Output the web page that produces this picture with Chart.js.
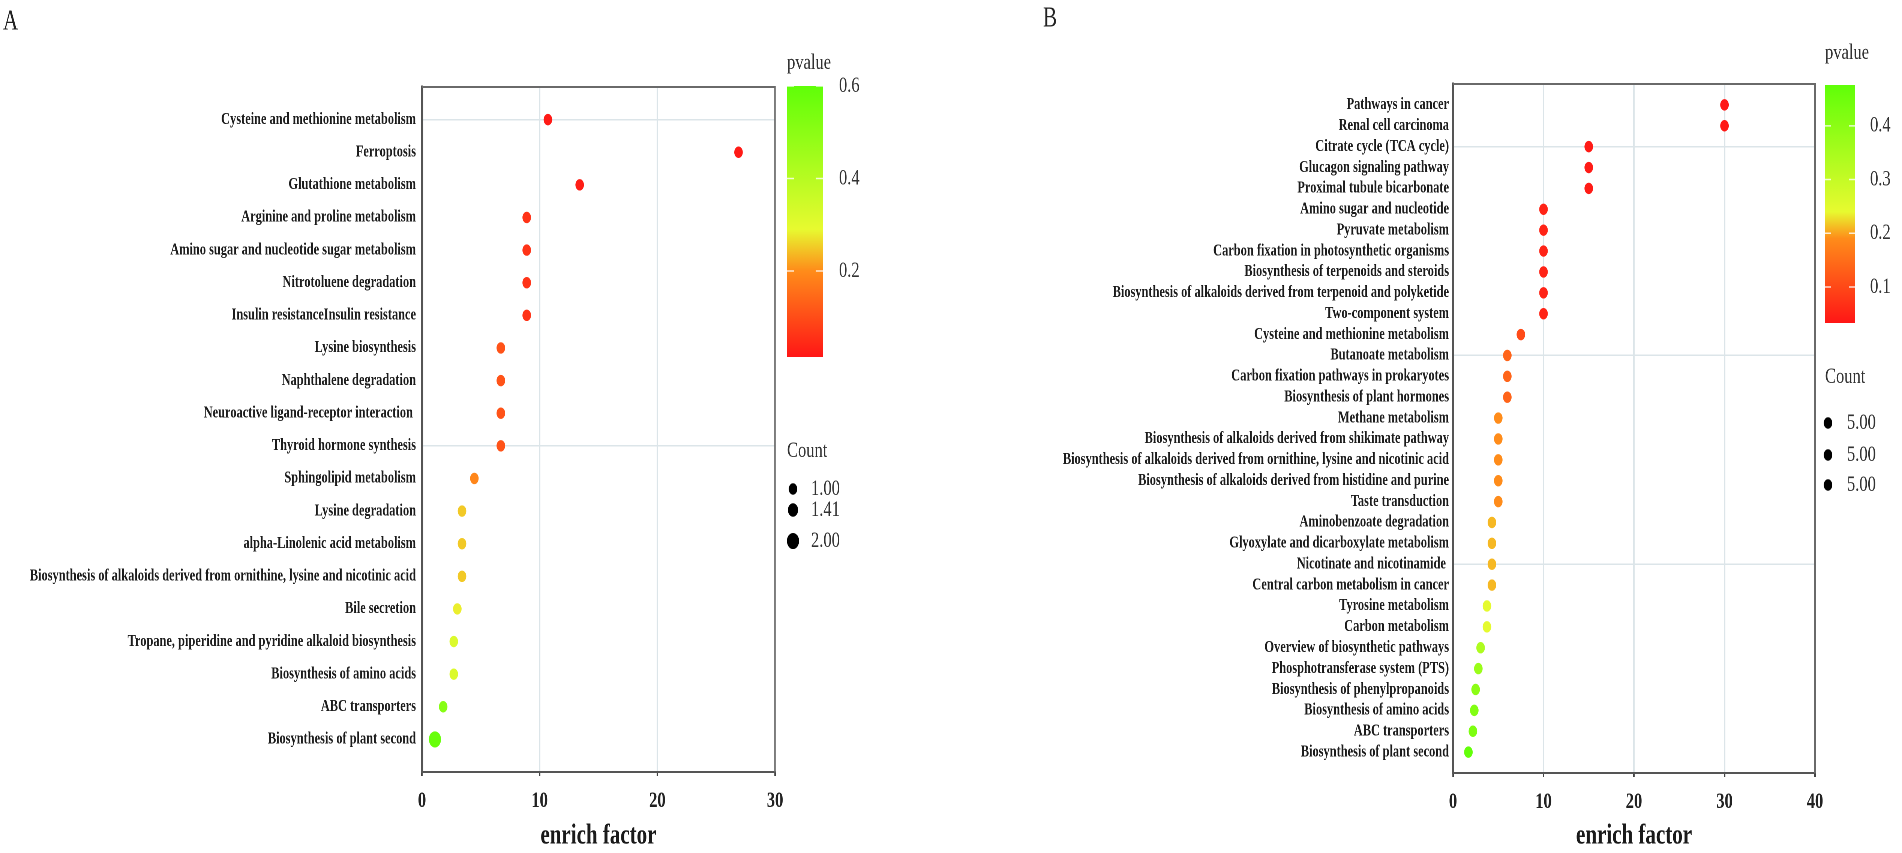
<!DOCTYPE html>
<html>
<head>
<meta charset="utf-8">
<script src="https://cdn.jsdelivr.net/npm/chart.js@4.4.1/dist/chart.umd.min.js"></script>
<style>
  html, body { margin: 0; padding: 0; background: #fff; overflow: hidden; }
  #wrap { position: relative; width: 1902px; height: 853px; }
  canvas { position: absolute; top: 0; }
  #chartA { left: 0; }
  #chartB { left: 951px; }
</style>
</head>
<body>
<div id="wrap">
  <canvas id="chartA"></canvas>
  <canvas id="chartB"></canvas>
</div>
<script>
// ---- panel A data (top row first) ----
const pathwaysA = [
  'Cysteine and methionine metabolism', 'Ferroptosis', 'Glutathione metabolism',
  'Arginine and proline metabolism', 'Amino sugar and nucleotide sugar metabolism',
  'Nitrotoluene degradation', 'Insulin resistanceInsulin resistance', 'Lysine biosynthesis',
  'Naphthalene degradation', 'Neuroactive ligand-receptor interaction ', 'Thyroid hormone synthesis',
  'Sphingolipid metabolism', 'Lysine degradation', 'alpha-Linolenic acid metabolism',
  'Biosynthesis of alkaloids derived from ornithine, lysine and nicotinic acid', 'Bile secretion',
  'Tropane, piperidine and pyridine alkaloid biosynthesis', 'Biosynthesis of amino acids',
  'ABC transporters', 'Biosynthesis of plant second'
];
const enrichA = [10.7, 26.9, 13.4, 8.9, 8.9, 8.9, 8.9, 6.7, 6.7, 6.7, 6.7, 4.45, 3.4, 3.4, 3.4, 3.0, 2.7, 2.7, 1.8, 1.1];
const pvalueA = [0.02, 0.02, 0.025, 0.06, 0.06, 0.06, 0.06, 0.11, 0.11, 0.11, 0.11, 0.19, 0.25, 0.25, 0.25, 0.28, 0.32, 0.32, 0.51, 0.585];
const countA = [1, 1, 1, 1, 1, 1, 1, 1, 1, 1, 1, 1, 1, 1, 1, 1, 1, 1, 1, 2];
const pvTicksA = [0.2, 0.4, 0.6];
const countTicksA = [1.00, 1.41, 2.00];

// ---- panel B data (top row first) ----
const pathwaysB = [
  'Pathways in cancer', 'Renal cell carcinoma', 'Citrate cycle (TCA cycle)', 'Glucagon signaling pathway',
  'Proximal tubule bicarbonate', 'Amino sugar and nucleotide', 'Pyruvate metabolism',
  'Carbon fixation in photosynthetic organisms', 'Biosynthesis of terpenoids and steroids',
  'Biosynthesis of alkaloids derived from terpenoid and polyketide', 'Two-component system',
  'Cysteine and methionine metabolism', 'Butanoate metabolism', 'Carbon fixation pathways in prokaryotes',
  'Biosynthesis of plant hormones', 'Methane metabolism', 'Biosynthesis of alkaloids derived from shikimate pathway',
  'Biosynthesis of alkaloids derived from ornithine, lysine and nicotinic acid',
  'Biosynthesis of alkaloids derived from histidine and purine', 'Taste transduction', 'Aminobenzoate degradation',
  'Glyoxylate and dicarboxylate metabolism', 'Nicotinate and nicotinamide ', 'Central carbon metabolism in cancer',
  'Tyrosine metabolism', 'Carbon metabolism', 'Overview of biosynthetic pathways', 'Phosphotransferase system (PTS)',
  'Biosynthesis of phenylpropanoids', 'Biosynthesis of amino acids', 'ABC transporters', 'Biosynthesis of plant second'
];
const enrichB = [30, 30, 15, 15, 15, 10, 10, 10, 10, 10, 10, 7.5, 6, 6, 6, 5, 5, 5, 5, 5,
  4.3, 4.3, 4.3, 4.3, 3.75, 3.75, 3.05, 2.8, 2.5, 2.35, 2.2, 1.7];
const pvalueB = [0.035, 0.035, 0.04, 0.04, 0.04, 0.05, 0.05, 0.05, 0.05, 0.05, 0.05, 0.104, 0.137, 0.137, 0.137,
  0.19, 0.19, 0.19, 0.19, 0.19, 0.21, 0.21, 0.21, 0.21, 0.245, 0.245, 0.34, 0.375, 0.40, 0.417, 0.426, 0.47];
const countB = Array(32).fill(5);
const pvTicksB = [0.1, 0.2, 0.3, 0.4];
const countTicksB = [5.00, 5.00, 5.00];

// the source figure is squeezed horizontally; draw wide, show narrow
const K = 0.75;
const PANEL_W = 951, PANEL_H = 853;
const ix = v => v / K;
const SERIF = "'Liberation Serif', 'Times New Roman', serif";
const GRID = '#dce5e9';

function colorScale(stops) {
  return p => {
    let i = 0;
    while (i < stops.length - 2 && p > stops[i + 1][0]) i++;
    const [p0, c0] = stops[i], [p1, c1] = stops[i + 1];
    const t = Math.max(0, Math.min(1, (p - p0) / (p1 - p0)));
    return 'rgb(' + c0.map((c, k) => Math.round(c + (c1[k] - c) * t)).join(',') + ')';
  };
}

function panelExtras(p) {
  return {
    id: 'extras',
    beforeDatasetsDraw(chart) {
      const { ctx, chartArea: a } = chart;
      ctx.save();
      ctx.strokeStyle = '#6a6a6a';
      ctx.lineWidth = 2;
      ctx.beginPath();
      ctx.moveTo(a.left, a.top);
      ctx.lineTo(a.right, a.top);
      ctx.lineTo(a.right, a.bottom);
      ctx.stroke();
      ctx.restore();
    },
    afterDraw(chart) {
      const { ctx } = chart;
      const L = p.legend;
      ctx.save();
      ctx.textBaseline = 'middle';
      ctx.textAlign = 'left';
      ctx.fillStyle = '#222';
      ctx.font = `28px ${SERIF}`;
      ctx.fillText(p.letter, ix(L.letter[0]), L.letter[1]);

      // pvalue colour bar
      const lo = p.stops[0][0], hi = p.stops[p.stops.length - 1][0];
      const x0 = ix(L.bar[0]), x1 = ix(L.bar[1]), top = L.bar[2], bot = L.bar[3];
      const g = ctx.createLinearGradient(0, bot, 0, top);
      p.stops.forEach(([v, c]) => g.addColorStop((v - lo) / (hi - lo), `rgb(${c.join(',')})`));
      ctx.fillStyle = g;
      ctx.fillRect(x0, top, x1 - x0, bot - top);
      const yOf = v => bot - (v - lo) / (hi - lo) * (bot - top);

      ctx.font = `22px ${SERIF}`;
      ctx.fillStyle = '#333';
      ctx.fillText('pvalue', x0, L.title);
      ctx.strokeStyle = 'rgba(255,255,255,0.8)';
      ctx.lineWidth = 1.5;
      const w = (x1 - x0) * 0.2;
      p.pvTicks.forEach(v => {
        const y = yOf(v);
        ctx.beginPath();
        ctx.moveTo(x0, y); ctx.lineTo(x0 + w, y);
        ctx.moveTo(x1 - w, y); ctx.lineTo(x1, y);
        ctx.stroke();
        ctx.fillText(v.toFixed(1), ix(L.tickX), y);
      });

      // count legend
      ctx.fillText('Count', x0, L.countTitle);
      p.countTicks.forEach((c, i) => {
        ctx.fillStyle = '#000';
        ctx.beginPath();
        ctx.arc(ix(L.dotX), L.dotY[i], p.dotR * Math.sqrt(c / p.countRef), 0, Math.PI * 2);
        ctx.fill();
        ctx.fillStyle = '#333';
        ctx.fillText(c.toFixed(2), ix(L.dotLabelX), L.dotY[i]);
      });
      ctx.restore();
    }
  };
}

function makePanel(id, p) {
  const cv = document.getElementById(id);
  cv.width = Math.round(ix(PANEL_W));
  cv.height = PANEL_H;
  cv.style.width = PANEL_W + 'px';
  cv.style.height = PANEL_H + 'px';
  const n = p.pathways.length;
  const color = colorScale(p.stops);
  const radius = c => p.dotR * Math.sqrt(p.count[c.dataIndex] / p.countRef);

  return new Chart(cv, {
    type: 'scatter',
    data: {
      datasets: [{
        data: p.enrich.map((x, i) => ({ x, y: n - i })),
        backgroundColor: c => color(p.pvalue[c.dataIndex]),
        pointRadius: radius,
        pointHoverRadius: radius,
        borderWidth: 0
      }]
    },
    options: {
      responsive: false,
      animation: false,
      devicePixelRatio: 2,
      layout: { padding: { left: 0, top: p.box.top, right: cv.width - ix(p.box.right), bottom: 0 } },
      plugins: { legend: { display: false }, tooltip: { enabled: false } },
      scales: {
        x: {
          type: 'linear', min: 0, max: p.xMax,
          afterFit: s => { s.height = PANEL_H - p.box.bottom; },
          ticks: {
            stepSize: 10, maxRotation: 0, padding: 12, color: '#222',
            font: { family: SERIF, size: 22, weight: 'bold' }
          },
          grid: {
            color: c => (c.tick && c.tick.value > 0 && c.tick.value < p.xMax) ? GRID : 'rgba(0,0,0,0)',
            lineWidth: 2, tickLength: 4, tickColor: '#444', tickWidth: 2
          },
          border: { color: '#555', width: 2 },
          title: {
            display: true, text: 'enrich factor', color: '#1a1a1a', padding: 0,
            font: { family: SERIF, size: 28, weight: 'bold' }
          }
        },
        y: {
          type: 'linear', min: 0, max: p.yMax,
          afterBuildTicks: s => { s.ticks = p.pathways.map((_, i) => ({ value: i + 1 })); },
          afterFit: s => { s.width = ix(p.box.left); },
          ticks: {
            autoSkip: false, padding: ix(p.labelGap), color: '#1c1c1c',
            font: { family: SERIF, size: 16.5, weight: 'bold' },
            callback: v => p.pathways[n - v]
          },
          grid: {
            drawTicks: false, lineWidth: 1.5,
            color: c => (c.tick && c.tick.value % 10 === 0) ? GRID : 'rgba(0,0,0,0)'
          },
          border: { color: '#555', width: 2.6 }
        }
      }
    },
    plugins: [panelExtras(p)]
  });
}

makePanel('chartA', {
  pathways: pathwaysA, enrich: enrichA, pvalue: pvalueA, count: countA,
  pvTicks: pvTicksA, countTicks: countTicksA, countRef: 1, dotR: 5.7,
  xMax: 30, yMax: 21, letter: 'A', labelGap: 6,
  box: { left: 422, right: 775, top: 87, bottom: 772 },
  stops: [[0.014, [255, 22, 22]], [0.2, [255, 140, 26]], [0.29, [232, 250, 48]], [0.6, [96, 255, 8]]],
  legend: {
    letter: [3, 22], bar: [787, 823, 86, 357], title: 63, tickX: 839,
    countTitle: 451, dotX: 793, dotY: [489, 510, 541], dotLabelX: 811
  }
});

makePanel('chartB', {
  pathways: pathwaysB, enrich: enrichB, pvalue: pvalueB, count: countB,
  pvTicks: pvTicksB, countTicks: countTicksB, countRef: 5, dotR: 5.7,
  xMax: 40, yMax: 33, letter: 'B', labelGap: 4,
  box: { left: 502, right: 864, top: 84, bottom: 773 },
  stops: [[0.033, [255, 22, 22]], [0.19, [255, 140, 26]], [0.24, [232, 250, 48]], [0.476, [96, 255, 8]]],
  legend: {
    letter: [92, 19], bar: [874, 904, 85, 323], title: 53, tickX: 919,
    countTitle: 377, dotX: 877, dotY: [423, 455, 485], dotLabelX: 896
  }
});
</script>
</body>
</html>
